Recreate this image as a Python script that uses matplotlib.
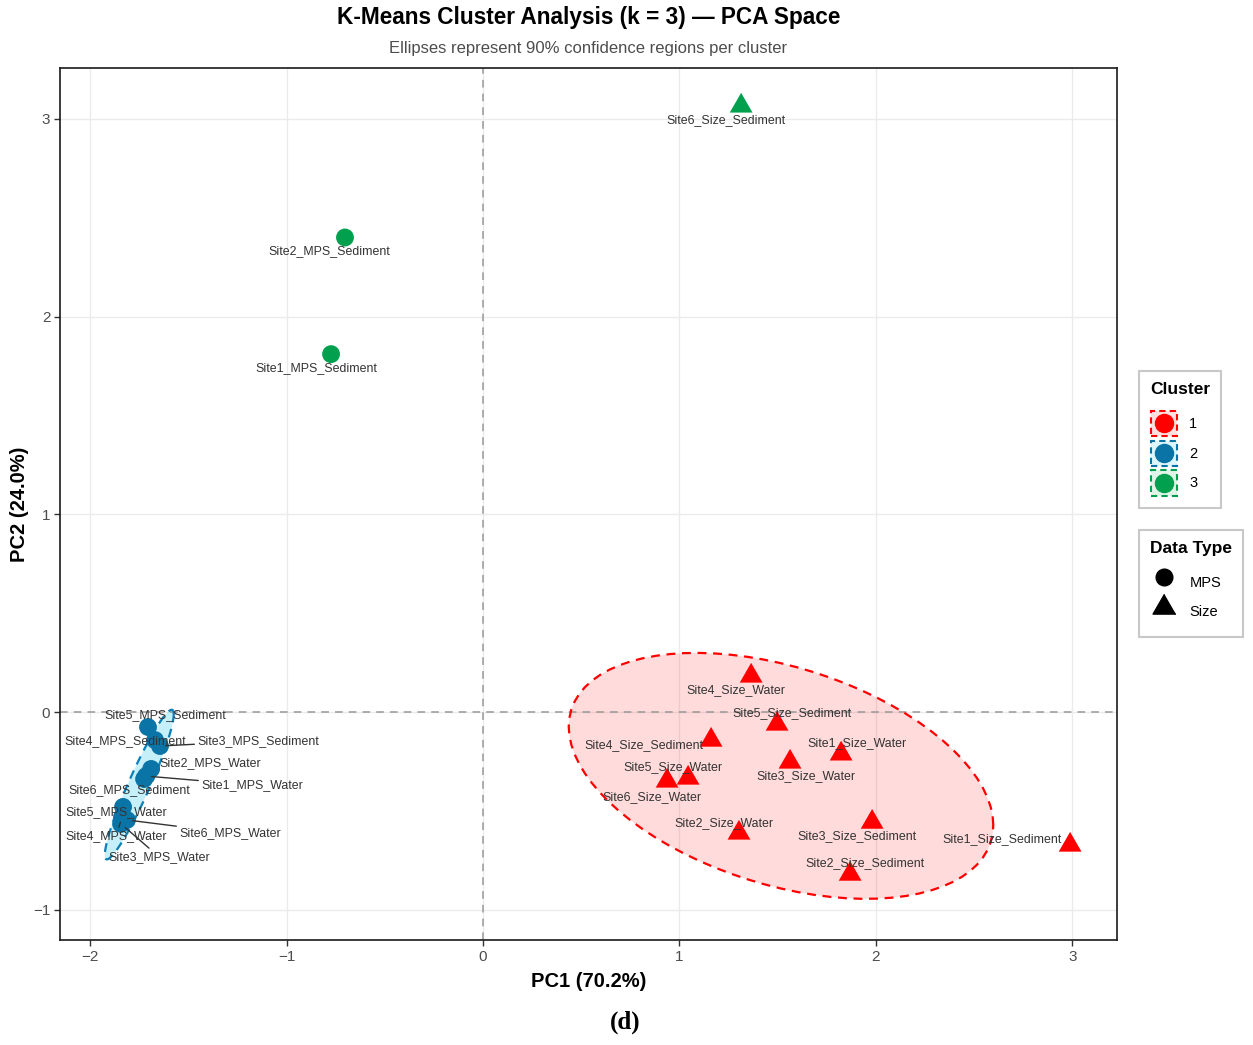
import numpy as np
import matplotlib.pyplot as plt
from matplotlib.patches import Rectangle, Polygon
from matplotlib.lines import Line2D
from matplotlib.legend_handler import HandlerBase

plt.rcParams['font.family'] = ['Liberation Sans', 'DejaVu Sans']

# PCA scores
sample_names = ['Site1_MPS_Water', 'Site2_MPS_Water', 'Site3_MPS_Water', 'Site4_MPS_Water',
                'Site5_MPS_Water', 'Site6_MPS_Water', 'Site1_MPS_Sediment', 'Site2_MPS_Sediment',
                'Site3_MPS_Sediment', 'Site4_MPS_Sediment', 'Site5_MPS_Sediment', 'Site6_MPS_Sediment',
                'Site1_Size_Water', 'Site2_Size_Water', 'Site3_Size_Water', 'Site4_Size_Water',
                'Site5_Size_Water', 'Site6_Size_Water', 'Site1_Size_Sediment', 'Site2_Size_Sediment',
                'Site3_Size_Sediment', 'Site4_Size_Sediment', 'Site5_Size_Sediment', 'Site6_Size_Sediment']
pc1 = [-1.716, -1.690, -1.843, -1.838, -1.833, -1.813, -0.774, -0.703,
       -1.645, -1.670, -1.706, -1.726,
       1.823, 1.303, 1.563, 1.365, 1.044, 0.937, 2.989, 1.869, 1.981, 1.161, 1.497, 1.314]
pc2 = [-0.324, -0.288, -0.566, -0.531, -0.480, -0.546, 1.810, 2.400,
       -0.172, -0.142, -0.076, -0.339,
       -0.212, -0.612, -0.253, 0.182, -0.334, -0.349, -0.673, -0.820, -0.557, -0.142, -0.061, 3.065]
cluster = [2, 2, 2, 2, 2, 2, 3, 3, 2, 2, 2, 2,
           1, 1, 1, 1, 1, 1, 1, 1, 1, 1, 1, 3]
data_type = ['MPS'] * 12 + ['Size'] * 12

# label placement (pixel offsets from the point, y up) and whether a leader line is drawn
label_dx = [106, 59, 38, -6, -7, 103, -15, -16,
            98, -30, 17, -15,
            16, -15, 16, -15, -15, -15, -68, 15, -15, -67, 15, -15]
label_dy = [-9, 6, -33, -19, -5, -13, -14, -14,
            5, -1, 12, -11,
            11, 10, -14, -14, 11, -16, 6, 11, -14, -5, 11, -14]
leader = [True, False, True, True, False, True, False, False,
          True, False, False, False] + [False] * 12

cluster_colors = {1: '#FF0000', 2: '#0A74A6', 3: '#00A04E'}
ellipse_fill = {1: '#FF0000', 2: '#2FCBEB'}
ellipse_alpha = {1: 0.14, 2: 0.28}
ellipse_edge = {1: '#FF0000', 2: '#0A7FB8'}

pc1 = np.array(pc1)
pc2 = np.array(pc2)
cluster = np.array(cluster)
data_type = np.array(data_type)


def cov_trob(x, nu=5, maxit=25, tol=0.01):
    # robust multivariate t covariance, as MASS::cov.trob
    n, p = x.shape
    wt = np.ones(n)
    loc = x.mean(axis=0)
    w = np.sqrt(wt)
    for _ in range(maxit):
        w0 = w
        X = x - loc
        _, d, vt = np.linalg.svd(np.sqrt(w / w.sum())[:, None] * X, full_matrices=False)
        wX = X @ vt.T @ np.diag(1 / d)
        Q = (wX ** 2).sum(axis=1)
        w = wt * (nu + p) / (nu + Q)
        loc = (w[:, None] * x).sum(axis=0) / w.sum()
        if np.all(np.abs(w - w0) < tol):
            break
    cov = (np.sqrt(w)[:, None] * X).T @ (np.sqrt(w)[:, None] * X) / wt.sum()
    return loc, cov


def ellipse_path(x, y, level=0.9, segments=80):
    pts = np.column_stack([x, y])
    loc, cov = cov_trob(pts)
    dfd = len(x) - 1
    fq = dfd / 2 * ((1 - level) ** (-2 / dfd) - 1)  # qf(level, 2, dfd)
    radius = np.sqrt(2 * fq)
    chol = np.linalg.cholesky(cov).T
    ang = np.linspace(0, 2 * np.pi, segments + 1)
    circle = np.column_stack([np.cos(ang), np.sin(ang)])
    return loc + radius * circle @ chol


fig = plt.figure(figsize=(12.53, 10.45), dpi=100)
ax = fig.add_axes([0.0479, 0.1005, 0.8436, 0.8344])

for c in [1, 2]:
    m = cluster == c
    verts = ellipse_path(pc1[m], pc2[m])
    ax.add_patch(Polygon(verts, closed=True, facecolor=ellipse_fill[c], alpha=ellipse_alpha[c],
                         edgecolor='none', zorder=1))
    ax.add_patch(Polygon(verts, closed=True, facecolor='none', edgecolor=ellipse_edge[c],
                         linestyle=(0, (4, 3)), linewidth=1.6, zorder=1.5))

ax.axhline(0, color='#999999', linestyle=(0, (5, 4)), linewidth=1.1, zorder=1.2)
ax.axvline(0, color='#999999', linestyle=(0, (5, 4)), linewidth=1.1, zorder=1.2)

tri = [(0, 1), (-0.866, -0.5), (0.866, -0.5)]
for i in range(len(pc1)):
    mk = 'o' if data_type[i] == 'MPS' else tri
    size = 165 if data_type[i] == 'MPS' else 360
    ax.scatter(pc1[i], pc2[i], s=size, marker=mk, color=cluster_colors[cluster[i]],
               edgecolors='none', zorder=3)

for i in range(len(pc1)):
    props = None
    if leader[i]:
        props = dict(arrowstyle='-', color='#333333', lw=1.0, shrinkA=0, shrinkB=4)
    ax.annotate(sample_names[i], (pc1[i], pc2[i]), xytext=(label_dx[i], label_dy[i]),
                textcoords='offset pixels', ha='center', va='center', fontsize=8.9,
                color='#333333', arrowprops=props, zorder=4)

ax.set_xlim(-2.154, 3.228)
ax.set_ylim(-1.153, 3.257)
ax.set_xticks([-2, -1, 0, 1, 2, 3])
ax.set_yticks([-1, 0, 1, 2, 3])
ax.grid(True, color='#EBEBEB', linewidth=1.0, zorder=0)
ax.set_axisbelow(True)
for s in ax.spines.values():
    s.set_linewidth(1.2)
    s.set_color('#1A1A1A')
ax.tick_params(axis='both', length=4, width=1.0, color='#333333', labelsize=11,
               labelcolor='#4D4D4D', pad=3)

ax.set_xlabel('PC1 (70.2%)', fontsize=14.5, fontweight='bold', labelpad=6)
ax.set_ylabel('PC2 (24.0%)', fontsize=14.5, fontweight='bold', labelpad=3)

fig.text(0.4697, 0.9828, 'K-Means Cluster Analysis (k = 3) \u2014 PCA Space', ha='center',
         va='center', fontsize=16.3, fontweight='bold', color='black')
fig.text(0.4697, 0.954, 'Ellipses represent 90% confidence regions per cluster', ha='center',
         va='center', fontsize=12, color='#4D4D4D')
fig.text(0.4988, 0.022, '(d)', ha='center', va='center', fontsize=18, fontweight='bold',
         family=['Liberation Serif', 'DejaVu Serif'])


class ClusterKey(HandlerBase):
    def __init__(self, color, fill):
        super().__init__()
        self.color = color
        self.fill = fill

    def create_artists(self, legend, orig_handle, xdescent, ydescent, width, height, fontsize, trans):
        box = Rectangle((-xdescent + 1, -ydescent + 1), width - 2, height - 2, facecolor=self.fill,
                        edgecolor=self.color, linestyle=(0, (3, 2)), linewidth=1.5, transform=trans)
        dot = Line2D([width / 2 - xdescent], [height / 2 - ydescent], marker='o', markersize=13,
                     color=self.color, linestyle='', transform=trans)
        return [box, dot]


leg_kw = dict(loc='upper left', frameon=True, fancybox=False, edgecolor='#BBBBBB', fontsize=10.5,
              title_fontproperties={'weight': 'bold', 'size': 12.5}, alignment='left',
              handlelength=1.95, handleheight=2.58, labelspacing=0.12, handletextpad=0.75,
              borderpad=0.75, borderaxespad=0)

key_fill = {1: '#FFE0E0', 2: '#DDF6FB', 3: '#E0F5E8'}
cl_handles = [Line2D([], []) for _ in range(3)]
hmap = {h: ClusterKey(cluster_colors[c], key_fill[c]) for h, c in zip(cl_handles, [1, 2, 3])}
leg1 = fig.legend(cl_handles, ['1', '2', '3'], handler_map=hmap, title='Cluster',
                  bbox_to_anchor=(0.909, 0.645), **leg_kw)
leg1.get_frame().set_linewidth(1.5)
leg1._legend_box.sep = 9

dt_handles = [Line2D([], [], marker='o', color='black', linestyle='', markersize=12),
              Line2D([], [], marker=tri, color='black', linestyle='', markersize=19)]
leg2 = fig.legend(dt_handles, ['MPS', 'Size'], title='Data Type',
                  bbox_to_anchor=(0.909, 0.493), **leg_kw)
leg2.get_frame().set_linewidth(1.5)
leg2._legend_box.sep = 9

fig.savefig('out.png', dpi=100)
